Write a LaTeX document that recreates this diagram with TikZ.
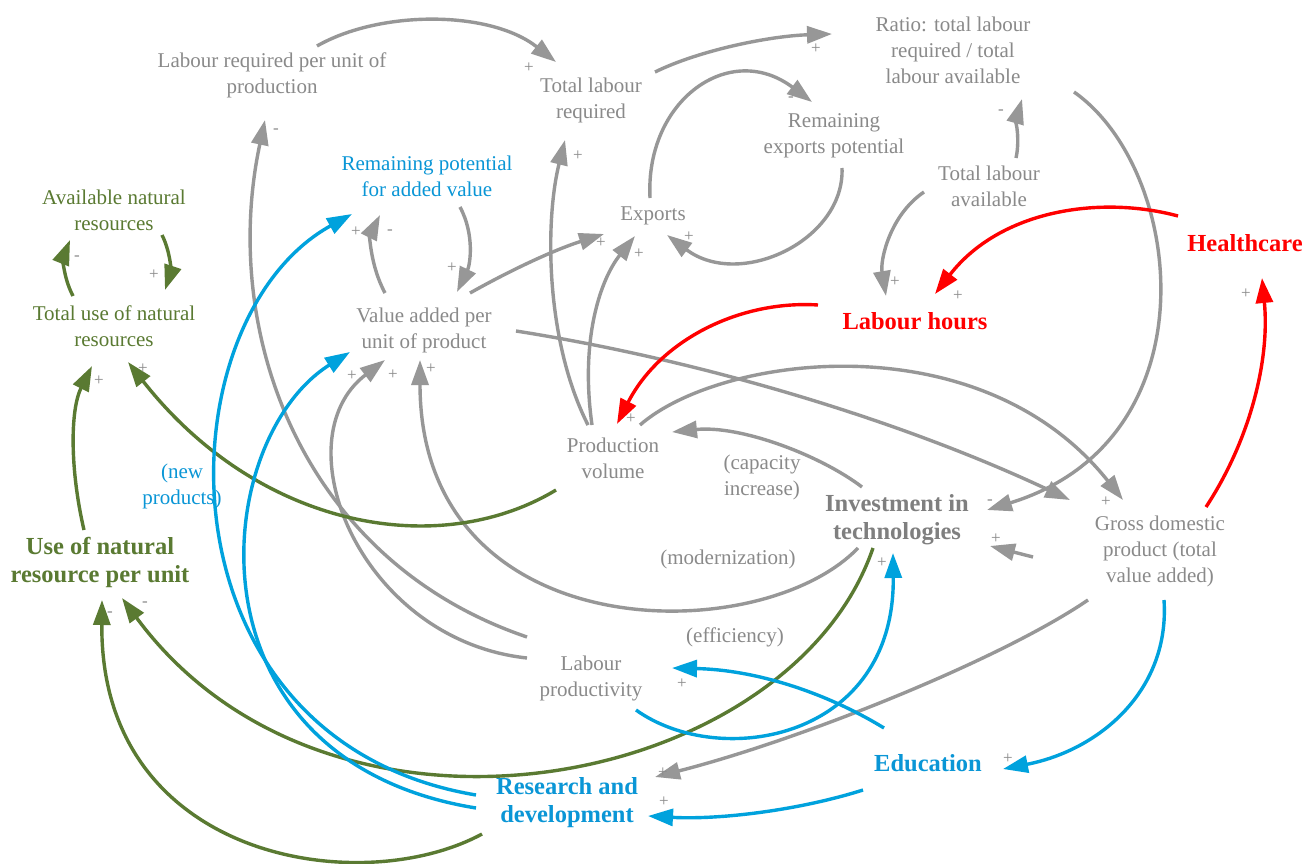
\documentclass[tikz,border=0pt]{standalone}
\usepackage{fontspec}
\setmainfont{Liberation Serif}
\usetikzlibrary{arrows.meta}
\definecolor{gry}{HTML}{979797}
\definecolor{gtx}{HTML}{8A8A8A}
\definecolor{gbd}{HTML}{7F7F7F}
\definecolor{grn}{HTML}{5A7A32}
\definecolor{blu}{HTML}{00A2DD}
\definecolor{btx}{HTML}{0A96D6}
\definecolor{rd}{HTML}{FF0000}
\tikzset{
  txt/.style={font=\fontsize{21}{26}\selectfont, text=gtx, align=center, inner sep=0pt},
  btxt/.style={font=\bfseries\fontsize{24.5}{28}\selectfont, align=center, inner sep=0pt},
  pol/.style={font=\fontsize{17}{17}\selectfont, text=gtx, inner sep=0pt},
  lk/.style={line width=3.4pt, -{Triangle[length=25pt,width=17pt]}},
}
\begin{document}
\begin{tikzpicture}[x=1pt,y=-1pt]
\useasboundingbox[fill=white] (0,0) rectangle (1314,864);
% ---------- nodes ----------
\node[txt] (lrpu) at (272,75) {Labour required per unit of\\production};
\node[txt] (tlr) at (591,100) {Total labour\\required};
\node[txt] (ratio) at (953,50) {Ratio: total labour\\required / total\\labour available};
\node[txt] (rexp) at (834,136) {Remaining\\exports potential};
\node[txt] (tla) at (989,186) {Total labour\\available};
\node[txt] (exp) at (653,216) {Exports};
\node[txt, text=btx] (rpot) at (427,176) {Remaining potential\\for added value};
\node[txt, text=grn] (anr) at (114,210) {Available natural\\resources};
\node[txt, text=grn] (tunr) at (114,326) {Total use of natural\\resources};
\node[txt] (vapu) at (424,330) {Value added per\\unit of product};
\node[txt] (pv) at (613,458) {Production\\volume};
\node[txt] (cap) at (762,477) {(capacity\\increase)};
\node[btxt, text=gbd] (inv) at (897,520) {Investment in\\technologies};
\node[txt] (gdp) at (1160,551) {Gross domestic\\product (total\\value added)};
\node[btxt, text=grn] (unr) at (100,562) {Use of natural\\resource per unit};
\node[txt, text=btx] (newp) at (182,486) {(new\\products)};
\node[txt] (mod) at (728,559) {(modernization)};
\node[txt] (eff) at (735,637) {(efficiency)};
\node[txt] (lp) at (591,678) {Labour\\productivity};
\node[btxt, text=btx] (edu) at (928,763) {Education};
\node[btxt, text=btx] (rnd) at (567,803) {Research and\\development};
\node[btxt, text=rd] (hc) at (1245,243) {Healthcare};
\node[btxt, text=rd] (lh) at (915,321) {Labour hours};
% ---------- grey connectors ----------
\draw[lk, gry] ([shift={(45,-29)}]lrpu.center) .. controls (380,10) and (490,10) .. ([shift={(-35,-38)}]tlr.center);
\draw[lk, gry] ([shift={(64,-28)}]tlr.center) .. controls (700,50) and (770,36) .. ([shift={(-121,-16)}]ratio.center);
\draw[lk, gry] ([shift={(-3,-18)}]exp.center) .. controls (645,100) and (730,40) .. ([shift={(-22,-34)}]rexp.center);
\draw[lk, gry] ([shift={(8,32)}]rexp.center) .. controls (845,240) and (740,290) .. ([shift={(14,19)}]exp.center);
\draw[lk, gry] ([shift={(27,-28)}]tla.center) .. controls (1020,140) and (1016,120) .. ([shift={(69,49)}]ratio.center);
\draw[lk, gry] ([shift={(-65,6)}]tla.center) .. controls (890,215) and (880,260) .. ([shift={(-29,-25)}]lh.center);
\draw[lk, gry] ([shift={(121,42)}]ratio.center) .. controls (1185,170) and (1215,440) .. ([shift={(90,-10)}]inv.center);
\draw[lk, gry] ([shift={(-25,-33)}]pv.center) .. controls (545,340) and (545,220) .. ([shift={(-26,40)}]tlr.center);
\draw[lk, gry] ([shift={(-21,-33)}]pv.center) .. controls (580,340) and (600,280) .. ([shift={(-18,20)}]exp.center);
\draw[lk, gry] ([shift={(46,-37)}]vapu.center) .. controls (520,265) and (560,248) .. ([shift={(-49,18)}]exp.center);
\draw[lk, gry] ([shift={(33,31)}]rpot.center) .. controls (475,235) and (470,265) .. ([shift={(33,-38)}]vapu.center);
\draw[lk, gry] ([shift={(-39,-37)}]vapu.center) .. controls (370,265) and (370,235) .. ([shift={(-47,39)}]rpot.center);
\draw[lk, gry] ([shift={(92,1)}]vapu.center) .. controls (700,360) and (900,420) .. ([shift={(-90,-51)}]gdp.center);
\draw[lk, gry] ([shift={(27,-33)}]pv.center) .. controls (720,355) and (980,320) .. ([shift={(-37,-51)}]gdp.center);
\draw[lk, gry] ([shift={(-127,6)}]gdp.center) -- ([shift={(93,26)}]inv.center);
\draw[lk, gry] ([shift={(-35,-33)}]inv.center) .. controls (820,455) and (740,425) .. ([shift={(59,-26)}]pv.center);
\draw[lk, gry] ([shift={(-39,28)}]inv.center) .. controls (760,650) and (420,650) .. ([shift={(-4,30)}]vapu.center);
\draw[lk, gry] ([shift={(-64,-20)}]lp.center) .. controls (360,640) and (280,440) .. ([shift={(-39,30)}]vapu.center);
\draw[lk, gry] ([shift={(-64,-41)}]lp.center) .. controls (300,560) and (220,330) .. ([shift={(-7,45)}]lrpu.center);
\draw[lk, gry] ([shift={(-72,49)}]gdp.center) .. controls (1000,660) and (800,740) .. ([shift={(88,-26)}]rnd.center);
% ---------- red connectors ----------
\draw[lk, rd] ([shift={(-67,-27)}]hc.center) .. controls (1100,195) and (1000,210) .. ([shift={(20,-27)}]lh.center);
\draw[lk, rd] ([shift={(-97,-16)}]lh.center) .. controls (740,300) and (660,340) .. ([shift={(4,-34)}]pv.center);
\draw[lk, rd] ([shift={(46,-44)}]gdp.center) .. controls (1250,440) and (1270,360) .. ([shift={(17,35)}]hc.center);
% ---------- green connectors ----------
\draw[lk, grn] ([shift={(48,25)}]anr.center) .. controls (172,255) and (170,275) .. ([shift={(51,-36)}]tunr.center);
\draw[lk, grn] ([shift={(-41,-30)}]tunr.center) .. controls (62,275) and (64,255) .. ([shift={(-44,30)}]anr.center);
\draw[lk, grn] ([shift={(-16,-32)}]unr.center) .. controls (70,470) and (70,410) .. ([shift={(-22,40)}]tunr.center);
\draw[lk, grn] ([shift={(-57,32)}]pv.center) .. controls (440,560) and (260,530) .. ([shift={(14,36)}]tunr.center);
\draw[lk, grn] ([shift={(-24,28)}]inv.center) .. controls (790,790) and (330,880) .. ([shift={(22,36)}]unr.center);
\draw[lk, grn] ([shift={(-85,31)}]rnd.center) .. controls (360,900) and (100,860) .. ([shift={(2,38)}]unr.center);
% ---------- blue connectors ----------
\draw[lk, blu] ([shift={(-91,-8)}]rnd.center) .. controls (150,740) and (160,320) .. ([shift={(-75,38)}]rpot.center);
\draw[lk, blu] ([shift={(-91,5)}]rnd.center) .. controls (180,760) and (210,440) .. ([shift={(-74,22)}]vapu.center);
\draw[lk, blu] ([shift={(-44,-35)}]edu.center) .. controls (830,695) and (760,670) .. ([shift={(81,-10)}]lp.center);
\draw[lk, blu] ([shift={(45,32)}]lp.center) .. controls (720,770) and (895,740) .. ([shift={(-4,33)}]inv.center);
\draw[lk, blu] ([shift={(4,49)}]gdp.center) .. controls (1170,690) and (1100,750) .. ([shift={(75,6)}]edu.center);
\draw[lk, blu] ([shift={(-65,27)}]edu.center) .. controls (800,810) and (720,820) .. ([shift={(81,13)}]rnd.center);
% ---------- polarities ----------
\node[pol] (p1) at (529,68) {+};
\node[pol] (p2) at (816,49) {+};
\node[pol] (p3) at (791,99) {-};
\node[pol] (p4) at (689,237) {+};
\node[pol] (p5) at (1001,112) {-};
\node[pol] (p6) at (895,282) {+};
\node[pol] (p7) at (990,502) {-};
\node[pol] (p8) at (578,156) {+};
\node[pol] (p9) at (639,254) {+};
\node[pol] (p10) at (601,243) {+};
\node[pol] (p11) at (452,268) {+};
\node[pol] (p12) at (390,232) {-};
\node[pol] (p13) at (1106,502) {+};
\node[pol] (p14) at (996,539) {+};
\node[pol] (p15) at (431,369) {+};
\node[pol] (p16) at (393,375) {+};
\node[pol] (p17) at (276,131) {-};
\node[pol] (p18) at (663,773) {+};
\node[pol] (p19) at (958,296) {+};
\node[pol] (p20) at (631,419) {+};
\node[pol] (p21) at (1246,294) {+};
\node[pol] (p22) at (154,275) {+};
\node[pol] (p23) at (77,258) {-};
\node[pol] (p24) at (99,381) {+};
\node[pol] (p25) at (143,369) {+};
\node[pol] (p26) at (145,604) {-};
\node[pol] (p27) at (110,614) {-};
\node[pol] (p28) at (356,232) {+};
\node[pol] (p29) at (352,376) {+};
\node[pol] (p30) at (682,684) {+};
\node[pol] (p31) at (882,563) {+};
\node[pol] (p32) at (1008,759) {+};
\node[pol] (p33) at (664,802) {+};
\end{tikzpicture}
\end{document}
